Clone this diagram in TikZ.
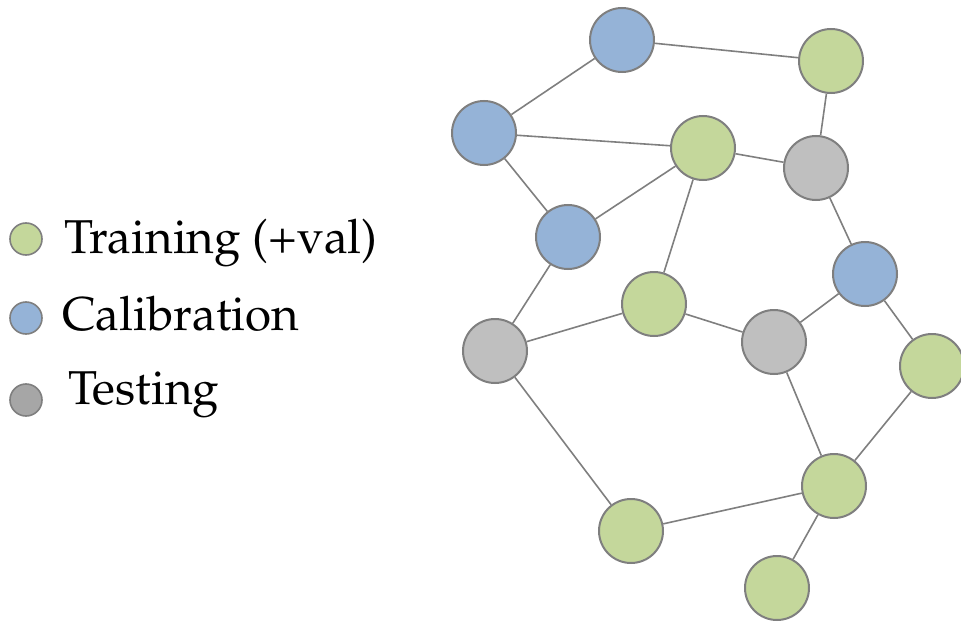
\documentclass[tikz,border=0pt]{standalone}
\usepackage[T1]{fontenc}
\usepackage{mathpazo}
\usepackage{tikz}
\usetikzlibrary{positioning}
\definecolor{trainfill}{RGB}{196,215,155}
\definecolor{calibfill}{RGB}{149,179,215}
\definecolor{testfill}{RGB}{191,191,191}
\definecolor{legendgray}{RGB}{166,166,166}
\definecolor{edgegray}{RGB}{127,127,127}
\tikzset{
    graphnode/.style={circle, minimum size=64pt, inner sep=0pt, draw=edgegray, line width=2pt},
    legendnode/.style={circle, minimum size=32pt, inner sep=0pt, draw=edgegray, line width=1.6pt},
    legendtext/.style={anchor=base west, inner sep=0pt, font=\fontsize{47.5}{56}\selectfont},
    edge/.style={draw=edgegray, line width=1.6pt},
}

\begin{document}
\begin{tikzpicture}[x=1pt, y=-1pt]
\useasboundingbox (0,0) rectangle (961,623);

% Legend
\node[legendnode, fill=trainfill] (leg-train) at (26,239) {};
\node[legendnode, fill=calibfill] (leg-calib) at (26,318) {};
\node[legendnode, fill=legendgray] (leg-test) at (26,400) {};
\node[legendtext] (leg-train-text) at (64,253) {Training (+val)};
\node[legendtext] (leg-calib-text) at (62,330) {Calibration};
\node[legendtext] (leg-test-text) at (68,404) {Testing};

% Graph nodes
\node[graphnode, fill=calibfill] (n-a) at (622,40) {};
\node[graphnode, fill=trainfill] (n-b) at (831,61) {};
\node[graphnode, fill=calibfill] (n-c) at (484,133) {};
\node[graphnode, fill=trainfill] (n-d) at (703,148) {};
\node[graphnode, fill=testfill] (n-e) at (816,168) {};
\node[graphnode, fill=calibfill] (n-f) at (568,237) {};
\node[graphnode, fill=calibfill] (n-g) at (865,274) {};
\node[graphnode, fill=trainfill] (n-h) at (654,304) {};
\node[graphnode, fill=testfill] (n-i) at (495,351) {};
\node[graphnode, fill=testfill] (n-j) at (774,342) {};
\node[graphnode, fill=trainfill] (n-k) at (932,366) {};
\node[graphnode, fill=trainfill] (n-l) at (834,486) {};
\node[graphnode, fill=trainfill] (n-m) at (631,531) {};
\node[graphnode, fill=trainfill] (n-n) at (777,588) {};

% Edges
\foreach \u/\v in {a/b, a/c, c/d, c/f, f/d, d/e, b/e, e/g, d/h, f/i, i/h, h/j, j/g, g/k, j/l, k/l, i/m, m/l, l/n}
    \draw[edge] (n-\u) -- (n-\v);

\end{tikzpicture}
\end{document}
